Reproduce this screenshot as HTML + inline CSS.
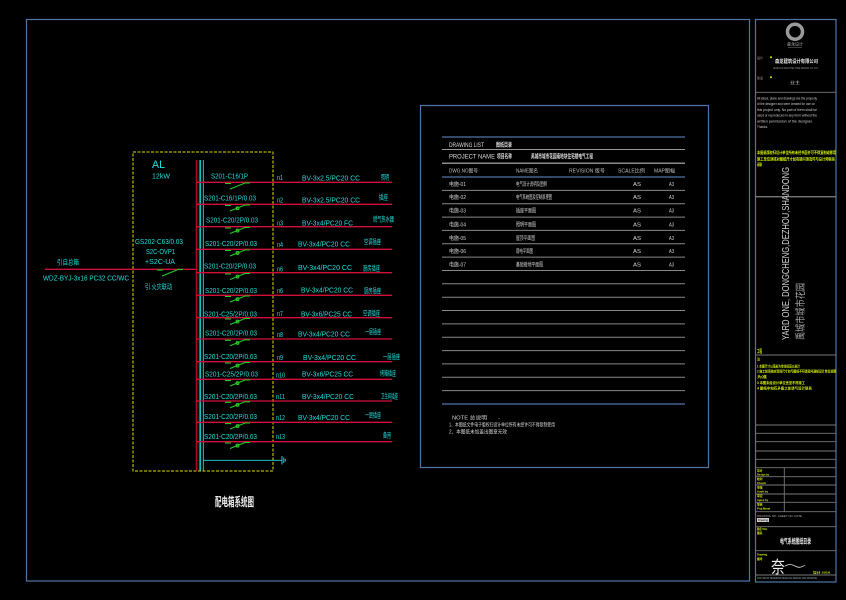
<!DOCTYPE html>
<html><head><meta charset="utf-8"><style>
html,body{margin:0;padding:0;background:#000;}
svg{display:block;}
text{font-family:"Liberation Sans","Noto Sans CJK SC",sans-serif;}
</style></head><body>
<svg width="846" height="600" viewBox="0 0 846 600" xmlns="http://www.w3.org/2000/svg">
<rect x="0" y="0" width="846" height="600" fill="#000"/>
<!-- main frame -->
<rect x="26.5" y="19.5" width="723" height="561.5" fill="none" stroke="#4f74a8" stroke-width="1.2"/>
<!-- title block frame -->
<rect x="755.5" y="19.5" width="80.5" height="562.5" fill="none" stroke="#4f74a8" stroke-width="1.2"/>

<!-- ===== LEFT DIAGRAM ===== -->
<rect x="133" y="152" width="140" height="319" fill="none" stroke="#e0e000" stroke-width="1" stroke-dasharray="3,1.5"/>
<text x="152" y="168" font-size="11" fill="#22dddd" textLength="13" lengthAdjust="spacingAndGlyphs">AL</text>
<text x="152" y="178.5" font-size="7" fill="#22dddd" textLength="18" lengthAdjust="spacingAndGlyphs">12kW</text>

<!-- incoming -->
<line x1="45" y1="269.3" x2="196" y2="269.3" stroke="#d0103a" stroke-width="1.3"/>
<text x="57" y="264.5" font-size="7" fill="#22dddd" textLength="22" lengthAdjust="spacingAndGlyphs">引自总箱</text>
<text x="43" y="280.3" font-size="7" fill="#22dddd" textLength="86" lengthAdjust="spacingAndGlyphs">WDZ-BYJ-3x16  PC32  CC/WC</text>
<text x="135" y="244.2" font-size="7" fill="#22dddd" textLength="48" lengthAdjust="spacingAndGlyphs">GS202-C63/0.03</text>
<text x="146" y="254.2" font-size="7" fill="#22dddd" textLength="29" lengthAdjust="spacingAndGlyphs">S2C-OVP1</text>
<text x="145" y="264.2" font-size="7" fill="#22dddd" textLength="30" lengthAdjust="spacingAndGlyphs">+S2C-UA</text>
<text x="145" y="289.2" font-size="7" fill="#22dddd" textLength="27" lengthAdjust="spacingAndGlyphs">引.火灾联动</text>
<g stroke="#22cc22" stroke-width="1.2" fill="none">
<line x1="157" y1="270" x2="163" y2="270"/>
<line x1="162" y1="276" x2="177" y2="270"/>
<line x1="177" y1="269.5" x2="183" y2="269.5"/>
</g>

<!-- buses -->
<line x1="196.5" y1="160" x2="196.5" y2="471" stroke="#b0002e" stroke-width="1.6"/>
<line x1="199.3" y1="160" x2="199.3" y2="471" stroke="#22cc22" stroke-width="0.8"/>
<line x1="200.6" y1="160" x2="200.6" y2="471" stroke="#22dddd" stroke-width="0.9"/>
<line x1="203.3" y1="160" x2="203.3" y2="471" stroke="#22dddd" stroke-width="0.9"/>
<line x1="203" y1="460.3" x2="282" y2="460.3" stroke="#22dddd" stroke-width="0.9"/>
<line x1="282" y1="456" x2="282" y2="464.5" stroke="#22dddd" stroke-width="0.9"/>
<line x1="283.8" y1="457.5" x2="283.8" y2="463" stroke="#22dddd" stroke-width="0.9"/>
<line x1="285.3" y1="459" x2="285.3" y2="461.5" stroke="#22dddd" stroke-width="0.9"/>

<!-- circuit lines -->
<g stroke="#d0103a" stroke-width="1.3">
<line x1="196" y1="182.3" x2="392" y2="182.3"/>
<line x1="196" y1="204.3" x2="392" y2="204.3"/>
<line x1="196" y1="226.7" x2="392" y2="226.7"/>
<line x1="196" y1="249.3" x2="392" y2="249.3"/>
<line x1="196" y1="272.7" x2="392" y2="272.7"/>
<line x1="196" y1="295.3" x2="392" y2="295.3"/>
<line x1="196" y1="317.7" x2="392" y2="317.7"/>
<line x1="196" y1="339" x2="392" y2="339"/>
<line x1="196" y1="361.7" x2="392" y2="361.7"/>
<line x1="196" y1="379.3" x2="392" y2="379.3"/>
<line x1="196" y1="401" x2="392" y2="401"/>
<line x1="196" y1="422.3" x2="392" y2="422.3"/>
<line x1="196" y1="441.7" x2="392" y2="441.7"/>
</g>

<!-- breaker switch symbols -->
<g stroke="#22cc22" stroke-width="1.1" fill="none">
<path d="M225 183.5H231 M230 189L245 183 H250"/>
<path d="M225 205.5H231 M230 211L245 205 H250"/><circle cx="237.5" cy="208.3" r="1.4"/>
<path d="M225 228H231 M230 233.5L245 227.5 H250"/><circle cx="237.5" cy="230.6" r="1.4"/>
<path d="M225 250.5H231 M230 256L245 250 H250"/><circle cx="237.5" cy="253" r="1.4"/>
<path d="M225 274H231 M230 279.5L245 273.5 H250"/><circle cx="237.5" cy="276.6" r="1.4"/>
<path d="M225 296.5H231 M230 302L245 296 H250"/><circle cx="237.5" cy="299.2" r="1.4"/>
<path d="M225 319H231 M230 324.5L245 318.5 H250"/><circle cx="237.5" cy="321.6" r="1.4"/>
<path d="M225 340.3H231 M230 345.8L245 339.8 H250"/><circle cx="237.5" cy="342.9" r="1.4"/>
<path d="M225 363H231 M230 368.5L245 362.5 H250"/><circle cx="237.5" cy="365.6" r="1.4"/>
<path d="M225 380.6H231 M230 386L245 380 H250"/><circle cx="237.5" cy="383.1" r="1.4"/>
<path d="M225 402.3H231 M230 407.8L245 401.8 H250"/><circle cx="237.5" cy="404.9" r="1.4"/>
<path d="M225 423.6H231 M230 429L245 423 H250"/><circle cx="237.5" cy="426.1" r="1.4"/>
<path d="M225 443H231 M230 448.5L245 442.5 H250"/><circle cx="237.5" cy="445.6" r="1.4"/>
</g>

<!-- breaker labels -->
<g font-size="7" fill="#22dddd" lengthAdjust="spacingAndGlyphs">
<text x="211" y="178.5" textLength="37" lengthAdjust="spacingAndGlyphs">S201-C16/1P</text>
<text x="204" y="200.5" textLength="52" lengthAdjust="spacingAndGlyphs">S201-C16/1P/0.03</text>
<text x="206" y="222.5" textLength="52" lengthAdjust="spacingAndGlyphs">S201-C20/2P/0.03</text>
<text x="205" y="246" textLength="52" lengthAdjust="spacingAndGlyphs">S201-C20/2P/0.03</text>
<text x="204" y="268.5" textLength="52" lengthAdjust="spacingAndGlyphs">S201-C20/2P/0.03</text>
<text x="205" y="293" textLength="52" lengthAdjust="spacingAndGlyphs">S201-C20/2P/0.03</text>
<text x="204" y="316.5" textLength="53" lengthAdjust="spacingAndGlyphs">S201-C25/2P/0.03</text>
<text x="205" y="335.5" textLength="52" lengthAdjust="spacingAndGlyphs">S201-C20/2P/0.03</text>
<text x="204" y="359" textLength="53" lengthAdjust="spacingAndGlyphs">S201-C20/2P/0.03</text>
<text x="205" y="376.5" textLength="53" lengthAdjust="spacingAndGlyphs">S201-C25/2P/0.03</text>
<text x="204" y="399" textLength="53" lengthAdjust="spacingAndGlyphs">S201-C20/2P/0.03</text>
<text x="204" y="419" textLength="53" lengthAdjust="spacingAndGlyphs">S201-C20/2P/0.03</text>
<text x="204" y="439" textLength="53" lengthAdjust="spacingAndGlyphs">S201-C20/2P/0.03</text>

<text x="277" y="180" textLength="6" lengthAdjust="spacingAndGlyphs">n1</text>
<text x="277" y="202.5" textLength="6" lengthAdjust="spacingAndGlyphs">n2</text>
<text x="277" y="225.5" textLength="6" lengthAdjust="spacingAndGlyphs">n3</text>
<text x="277" y="247" textLength="6" lengthAdjust="spacingAndGlyphs">n4</text>
<text x="277" y="271.5" textLength="6" lengthAdjust="spacingAndGlyphs">n6</text>
<text x="277" y="293" textLength="6" lengthAdjust="spacingAndGlyphs">n6</text>
<text x="277" y="316" textLength="6" lengthAdjust="spacingAndGlyphs">n7</text>
<text x="277" y="337" textLength="6" lengthAdjust="spacingAndGlyphs">n8</text>
<text x="277" y="360" textLength="6" lengthAdjust="spacingAndGlyphs">n9</text>
<text x="276" y="377.5" textLength="9" lengthAdjust="spacingAndGlyphs">n10</text>
<text x="276" y="399" textLength="9" lengthAdjust="spacingAndGlyphs">n11</text>
<text x="276" y="420" textLength="9" lengthAdjust="spacingAndGlyphs">n12</text>
<text x="276" y="439" textLength="9" lengthAdjust="spacingAndGlyphs">n13</text>

<text x="302" y="180.5" textLength="58" lengthAdjust="spacingAndGlyphs">BV-3x2.5/PC20  CC</text>
<text x="302" y="202.5" textLength="58" lengthAdjust="spacingAndGlyphs">BV-3x2.5/PC20  CC</text>
<text x="302" y="225.5" textLength="51" lengthAdjust="spacingAndGlyphs">BV-3x4/PC20  FC</text>
<text x="298" y="246.5" textLength="52" lengthAdjust="spacingAndGlyphs">BV-3x4/PC20  CC</text>
<text x="298" y="270" textLength="54" lengthAdjust="spacingAndGlyphs">BV-3x4/PC20  CC</text>
<text x="301" y="292.5" textLength="52" lengthAdjust="spacingAndGlyphs">BV-3x4/PC20  CC</text>
<text x="301" y="316.5" textLength="51" lengthAdjust="spacingAndGlyphs">BV-3x6/PC25  CC</text>
<text x="298" y="336.5" textLength="52" lengthAdjust="spacingAndGlyphs">BV-3x4/PC20  CC</text>
<text x="303" y="360" textLength="53" lengthAdjust="spacingAndGlyphs">BV-3x4/PC20  CC</text>
<text x="302" y="376.5" textLength="51" lengthAdjust="spacingAndGlyphs">BV-3x6/PC25  CC</text>
<text x="302" y="399" textLength="52" lengthAdjust="spacingAndGlyphs">BV-3x4/PC20  CC</text>
<text x="298" y="420" textLength="52" lengthAdjust="spacingAndGlyphs">BV-3x4/PC20  CC</text>

<text x="381" y="179.5" textLength="8" lengthAdjust="spacingAndGlyphs">照明</text>
<text x="379" y="199.5" textLength="9" lengthAdjust="spacingAndGlyphs">插座</text>
<text x="373" y="221.5" textLength="21" lengthAdjust="spacingAndGlyphs">燃气热水器</text>
<text x="364" y="244" textLength="17" lengthAdjust="spacingAndGlyphs">空调插座</text>
<text x="363" y="270.5" textLength="17" lengthAdjust="spacingAndGlyphs">厨房插座</text>
<text x="364" y="293" textLength="17" lengthAdjust="spacingAndGlyphs">厨房插座</text>
<text x="363" y="315.5" textLength="17" lengthAdjust="spacingAndGlyphs">空调插座</text>
<text x="365" y="334" textLength="16" lengthAdjust="spacingAndGlyphs">一层插座</text>
<text x="383" y="359" textLength="17" lengthAdjust="spacingAndGlyphs">一层插座</text>
<text x="380" y="375.5" textLength="16" lengthAdjust="spacingAndGlyphs">烤箱插座</text>
<text x="381" y="398.5" textLength="17" lengthAdjust="spacingAndGlyphs">卫生间插座</text>
<text x="365" y="417.5" textLength="16" lengthAdjust="spacingAndGlyphs">一层插座</text>
<text x="383" y="437.5" textLength="8" lengthAdjust="spacingAndGlyphs">备用</text>
</g>

<text x="215" y="506" font-size="12" font-weight="bold" fill="#f0f0f0" textLength="39" lengthAdjust="spacingAndGlyphs">配电箱系统图</text>

<!-- ===== DRAWING LIST ===== -->
<rect x="420.5" y="105.5" width="288" height="362" fill="none" stroke="#4f74a8" stroke-width="1.2"/>
<line x1="442" y1="137" x2="685" y2="137" stroke="#4f74a8" stroke-width="1.2"/>
<line x1="442" y1="149.5" x2="685" y2="149.5" stroke="#9a9a9a" stroke-width="0.9"/>
<line x1="442" y1="163.2" x2="685" y2="163.2" stroke="#8a8a8a" stroke-width="1.5"/>
<line x1="442" y1="177" x2="685" y2="177" stroke="#4f74a8" stroke-width="1.2"/>
<g stroke="#888" stroke-width="1">
<line x1="442" y1="190.4" x2="685" y2="190.4"/>
<line x1="442" y1="203.7" x2="685" y2="203.7"/>
<line x1="442" y1="217.1" x2="685" y2="217.1"/>
<line x1="442" y1="230.4" x2="685" y2="230.4"/>
<line x1="442" y1="243.8" x2="685" y2="243.8"/>
<line x1="442" y1="257.1" x2="685" y2="257.1"/>
<line x1="442" y1="270.5" x2="685" y2="270.5"/>
<line x1="442" y1="283.8" x2="685" y2="283.8"/>
<line x1="442" y1="297.2" x2="685" y2="297.2"/>
<line x1="442" y1="310.5" x2="685" y2="310.5"/>
<line x1="442" y1="323.9" x2="685" y2="323.9"/>
<line x1="442" y1="337.2" x2="685" y2="337.2"/>
<line x1="442" y1="350.6" x2="685" y2="350.6"/>
<line x1="442" y1="363.9" x2="685" y2="363.9"/>
<line x1="442" y1="377.3" x2="685" y2="377.3"/>
<line x1="442" y1="390.6" x2="685" y2="390.6"/>
</g>
<line x1="442" y1="404" x2="685" y2="404" stroke="#4f74a8" stroke-width="1.2"/>

<g fill="#dcdcdc" font-size="6">
<text x="449" y="147" textLength="35" lengthAdjust="spacingAndGlyphs">DRAWING  LIST</text>
<text x="496" y="147" textLength="16" lengthAdjust="spacingAndGlyphs" font-weight="bold">图纸目录</text>
<text x="449" y="158.5" textLength="46" lengthAdjust="spacingAndGlyphs">PROJECT  NAME</text>
<text x="497" y="158.5" textLength="15" lengthAdjust="spacingAndGlyphs" font-weight="bold">项目名称</text>
<text x="531" y="158.5" textLength="62" lengthAdjust="spacingAndGlyphs" font-weight="bold">禹城市城市花园南地块住宅楼电气工程</text>
<text x="449" y="172.5" font-size="5" fill="#bbb" textLength="29" lengthAdjust="spacingAndGlyphs">DWG.NO图号</text>
<text x="516" y="172.5" font-size="5" fill="#bbb" textLength="22" lengthAdjust="spacingAndGlyphs">NAME图名</text>
<text x="569" y="172.5" font-size="5" fill="#bbb" textLength="36" lengthAdjust="spacingAndGlyphs">REVISION  版号</text>
<text x="618" y="172.5" font-size="5" fill="#bbb" textLength="27" lengthAdjust="spacingAndGlyphs">SCALE比例</text>
<text x="654" y="172.5" font-size="5" fill="#bbb" textLength="21" lengthAdjust="spacingAndGlyphs">MAP图幅</text>
</g>
<g fill="#d4d4d4" font-size="5.5">
<text x="449" y="185.8" textLength="17" lengthAdjust="spacingAndGlyphs">电施-01</text>
<text x="449" y="199.2" textLength="17" lengthAdjust="spacingAndGlyphs">电施-02</text>
<text x="449" y="212.5" textLength="17" lengthAdjust="spacingAndGlyphs">电施-03</text>
<text x="449" y="226.5" textLength="17" lengthAdjust="spacingAndGlyphs">电施-04</text>
<text x="449" y="239.8" textLength="17" lengthAdjust="spacingAndGlyphs">电施-05</text>
<text x="449" y="253.2" textLength="17" lengthAdjust="spacingAndGlyphs">电施-06</text>
<text x="449" y="266.5" textLength="17" lengthAdjust="spacingAndGlyphs">电施-07</text>
<text x="516" y="185.8" textLength="31" lengthAdjust="spacingAndGlyphs">电气设计说明及图例</text>
<text x="516" y="199.2" textLength="36" lengthAdjust="spacingAndGlyphs">电气系统图及控制原理图</text>
<text x="516" y="212.5" textLength="20" lengthAdjust="spacingAndGlyphs">插座平面图</text>
<text x="516" y="226.5" textLength="20" lengthAdjust="spacingAndGlyphs">照明平面图</text>
<text x="516" y="239.8" textLength="19" lengthAdjust="spacingAndGlyphs">屋顶平面图</text>
<text x="516" y="253.2" textLength="17" lengthAdjust="spacingAndGlyphs">弱电平面图</text>
<text x="516" y="266.5" textLength="27" lengthAdjust="spacingAndGlyphs">基础接地平面图</text>
<text x="633" y="185.8" textLength="8" lengthAdjust="spacingAndGlyphs">AS</text>
<text x="633" y="199.2" textLength="8" lengthAdjust="spacingAndGlyphs">AS</text>
<text x="633" y="212.5" textLength="8" lengthAdjust="spacingAndGlyphs">AS</text>
<text x="633" y="226.5" textLength="8" lengthAdjust="spacingAndGlyphs">AS</text>
<text x="633" y="239.8" textLength="8" lengthAdjust="spacingAndGlyphs">AS</text>
<text x="633" y="253.2" textLength="8" lengthAdjust="spacingAndGlyphs">AS</text>
<text x="633" y="266.5" textLength="8" lengthAdjust="spacingAndGlyphs">AS</text>
<text x="669" y="185.8" textLength="5" lengthAdjust="spacingAndGlyphs">A3</text>
<text x="669" y="199.2" textLength="5" lengthAdjust="spacingAndGlyphs">A3</text>
<text x="669" y="212.5" textLength="5" lengthAdjust="spacingAndGlyphs">A3</text>
<text x="669" y="226.5" textLength="5" lengthAdjust="spacingAndGlyphs">A3</text>
<text x="669" y="239.8" textLength="5" lengthAdjust="spacingAndGlyphs">A3</text>
<text x="669" y="253.2" textLength="5" lengthAdjust="spacingAndGlyphs">A3</text>
<text x="669" y="266.5" textLength="5" lengthAdjust="spacingAndGlyphs">A3</text>
</g>
<g fill="#d4d4d4" font-size="5">
<text x="452" y="419.3" textLength="35" lengthAdjust="spacingAndGlyphs">NOTE  总说明</text>
<text x="498" y="419.3" textLength="2" lengthAdjust="spacingAndGlyphs">-</text>
<text x="449" y="426.3" textLength="106" lengthAdjust="spacingAndGlyphs">1、本图纸文件电子版权归设计单位所有未经许可不得复制使用</text>
<text x="449" y="433.3" textLength="58" lengthAdjust="spacingAndGlyphs">2、本图纸未加盖出图章无效</text>
</g>

<!-- ===== TITLE BLOCK ===== -->
<circle cx="795" cy="31.7" r="7.5" fill="none" stroke="#9a9a9a" stroke-width="3.5"/>
<text x="795" y="45.5" font-size="4" fill="#aaa" text-anchor="middle" textLength="16" lengthAdjust="spacingAndGlyphs">森龙设计</text>
<line x1="788" y1="47.5" x2="802" y2="47.5" stroke="#666" stroke-width="0.6"/>
<circle cx="771" cy="57.3" r="1" fill="#e0f000"/>
<text x="757" y="59" font-size="3" fill="#aaa">设计</text>
<text x="775" y="63.2" font-size="5" fill="#eee" font-weight="bold" textLength="43" lengthAdjust="spacingAndGlyphs">森龙建筑设计有限公司</text>
<text x="773" y="69" font-size="2.8" fill="#999" textLength="45" lengthAdjust="spacingAndGlyphs">SENLONG ARCHITECTURE DESIGN CO.,LTD</text>
<circle cx="771" cy="77.3" r="1" fill="#e0f000"/>
<text x="757" y="79" font-size="3" fill="#aaa">建设</text>
<text x="790" y="84" font-size="4" fill="#ccc" textLength="10" lengthAdjust="spacingAndGlyphs">业主</text>
<line x1="756" y1="92.3" x2="836" y2="92.3" stroke="#777" stroke-width="0.8"/>
<g fill="#cfcfcf" font-size="3.5">
<text x="757" y="99.5" textLength="60" lengthAdjust="spacingAndGlyphs">All ideas, plans and drawings are the property</text>
<text x="757" y="105.2" textLength="58" lengthAdjust="spacingAndGlyphs">of the designer and were created for use on</text>
<text x="757" y="110.9" textLength="60" lengthAdjust="spacingAndGlyphs">this project only. No part of them shall be</text>
<text x="757" y="116.6" textLength="60" lengthAdjust="spacingAndGlyphs">used or reproduced in any form without the</text>
<text x="757" y="122.3" textLength="56" lengthAdjust="spacingAndGlyphs">written permission of the designer.</text>
<text x="757" y="128" textLength="11" lengthAdjust="spacingAndGlyphs">Thanks.</text>
</g>
<g fill="#d4f200" font-size="4" font-weight="bold">
<text x="757" y="154" textLength="79" lengthAdjust="spacingAndGlyphs">本图纸版权归设计单位所有未经书面许可不得复制或挪用</text>
<text x="757" y="160.5" textLength="78" lengthAdjust="spacingAndGlyphs">施工单位须核对图纸尺寸如有疑问须及时与设计师联系</text>
<text x="757" y="166" textLength="5" lengthAdjust="spacingAndGlyphs">谢谢</text>
</g>
<line x1="756" y1="196.7" x2="836" y2="196.7" stroke="#777" stroke-width="1.3"/>
<text x="789" y="340" font-size="10.5" fill="#cfcfcf" transform="rotate(-90 789 340)" textLength="173" lengthAdjust="spacingAndGlyphs">YARD ONE, DONGCHENG,DEZHOU,SHANDONG</text>
<text x="804" y="340" font-size="10" fill="#a8a8a8" transform="rotate(-90 804 340)" textLength="57" lengthAdjust="spacingAndGlyphs">禹城市城市花园</text>
<text x="757" y="353" font-size="5" fill="#d4f200" font-weight="bold" textLength="5" lengthAdjust="spacingAndGlyphs">工程</text>
<line x1="756" y1="355" x2="836" y2="355" stroke="#777" stroke-width="0.9"/>
<g fill="#d4f200" font-size="3.5" font-weight="bold">
<text x="757" y="360.5" textLength="3" lengthAdjust="spacingAndGlyphs">注</text>
<text x="757" y="367.5" textLength="43" lengthAdjust="spacingAndGlyphs">1 本图尺寸以毫米为单位标高以米计</text>
<text x="757" y="372.5" textLength="79" lengthAdjust="spacingAndGlyphs">2 施工前须核对现场尺寸如与图纸不符请及时通知设计单位处理</text>
<text x="757" y="378" textLength="10" lengthAdjust="spacingAndGlyphs">为准</text>
<text x="757" y="384" textLength="48" lengthAdjust="spacingAndGlyphs">3 本图未经设计单位盖章不得施工</text>
<text x="757" y="389.6" textLength="55" lengthAdjust="spacingAndGlyphs">4 图纸中如有矛盾之处请与设计联系</text>
</g>
<g stroke="#777" stroke-width="0.9">
<line x1="756" y1="425" x2="836" y2="425"/>
<line x1="756" y1="433.3" x2="836" y2="433.3"/>
<line x1="756" y1="441.7" x2="836" y2="441.7"/>
<line x1="756" y1="451" x2="836" y2="451"/>
<line x1="756" y1="459.3" x2="836" y2="459.3"/>
<line x1="756" y1="467.7" x2="836" y2="467.7"/>
<line x1="756" y1="476.7" x2="836" y2="476.7"/>
<line x1="756" y1="485" x2="836" y2="485"/>
<line x1="756" y1="494" x2="836" y2="494"/>
<line x1="756" y1="502.3" x2="836" y2="502.3"/>
<line x1="756" y1="511.7" x2="836" y2="511.7"/>
<line x1="756" y1="526.7" x2="836" y2="526.7"/>
<line x1="756" y1="550.7" x2="836" y2="550.7"/>
<line x1="756" y1="575" x2="836" y2="575"/>
<line x1="784.3" y1="467.7" x2="784.3" y2="511.7"/>
</g>
<g fill="#d4f200" font-size="2.8" font-weight="bold">
<text x="757" y="471.5">设计</text><text x="757" y="475.5" textLength="12" lengthAdjust="spacingAndGlyphs">Design by</text>
<text x="757" y="480">校对</text><text x="757" y="484" textLength="9" lengthAdjust="spacingAndGlyphs">Check</text>
<text x="757" y="488.5">审核</text><text x="757" y="492.5" textLength="11" lengthAdjust="spacingAndGlyphs">Audit by</text>
<text x="757" y="497">审定</text><text x="757" y="501" textLength="11" lengthAdjust="spacingAndGlyphs">Agree by</text>
<text x="757" y="505.5">项目</text><text x="757" y="509.5" textLength="13" lengthAdjust="spacingAndGlyphs">Proj.Mana</text>
<text x="757" y="530" textLength="10" lengthAdjust="spacingAndGlyphs">图名 Title</text>
<text x="757" y="534">图名</text>
<text x="757" y="555.5" textLength="10" lengthAdjust="spacingAndGlyphs">Drawing</text>
<text x="757" y="560">图号</text>
<text x="813" y="573.5" textLength="17" lengthAdjust="spacingAndGlyphs">设计 2019</text>
</g>
<text x="757" y="517" font-size="2.8" fill="#aaa" textLength="45" lengthAdjust="spacingAndGlyphs">DRAWING NO. SHEET NO. DATE</text>
<rect x="757" y="518" width="12" height="4" fill="#ccc"/>
<text x="758" y="521.2" font-size="3" fill="#000" textLength="10" lengthAdjust="spacingAndGlyphs">Drawing</text>
<text x="780" y="543.5" font-size="7" fill="#eee" font-weight="bold" textLength="31" lengthAdjust="spacingAndGlyphs">电气系统图纸目录</text>
<text x="771" y="573" font-size="17" fill="#eee" textLength="14" lengthAdjust="spacingAndGlyphs">奈</text>
<path d="M785 566 Q790 563 795 566 T805 565" stroke="#ddd" stroke-width="0.8" fill="none"/>
<text x="757" y="579" font-size="2.5" fill="#aaa" textLength="60" lengthAdjust="spacingAndGlyphs">COPYRIGHT RESERVED SENLONG DESIGN 2019 DRAWING</text>
</svg>
</body></html>
